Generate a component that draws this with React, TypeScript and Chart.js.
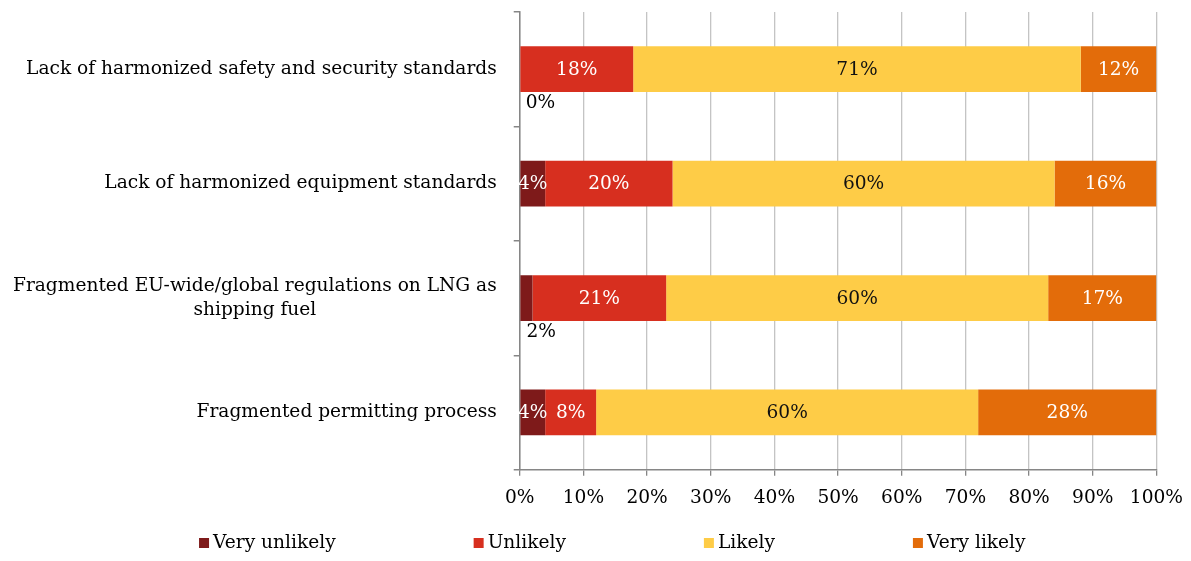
import React, { useEffect, useRef } from 'react';
import { Chart, registerables } from 'chart.js';

Chart.register(...registerables);

const categories: (string | string[])[] = [
  'Lack of harmonized safety and security standards',
  'Lack of harmonized equipment standards',
  ['Fragmented EU-wide/global regulations on LNG as', 'shipping fuel'],
  'Fragmented permitting process',
];

const seriesNames = ['Very unlikely', 'Unlikely', 'Likely', 'Very likely'];
const veryUnlikely = [0, 4, 2, 4];
const unlikely = [18, 20, 21, 8];
const likely = [71, 60, 60, 60];
const veryLikely = [12, 16, 17, 28];

const xTicks = [0, 10, 20, 30, 40, 50, 60, 70, 80, 90, 100];

const seriesColors = ['#7E1A1A', '#D72F1F', '#FECC47', '#E36C0A'];
const labelColors = ['#FFFFFF', '#FFFFFF', '#111111', '#FFFFFF'];

const FONT_FAMILY = '"DejaVu Serif", Georgia, serif';
const FONT_SIZE = 18.6;
const Y_LABEL_GAP = 17;
const X_TICK_PADDING = 11;

const rawSeries = [veryUnlikely, unlikely, likely, veryLikely];
const rowTotals = categories.map((_, i) => rawSeries.reduce((s, arr) => s + arr[i], 0));

const yLabelPlugin = {
  id: 'yLabels',
  afterDraw(chart: any) {
    const scale = chart.scales.y;
    const ctx = chart.ctx;
    ctx.save();
    ctx.font = `${FONT_SIZE}px ${FONT_FAMILY}`;
    ctx.fillStyle = '#000';
    ctx.textBaseline = 'middle';
    const rightEdge = scale.right - 6 - Y_LABEL_GAP;
    const lineH = FONT_SIZE * 1.29;
    categories.forEach((cat, i) => {
      const lines = Array.isArray(cat) ? cat : [cat];
      const widest = Math.max(...lines.map((l) => ctx.measureText(l).width));
      const cx = rightEdge - widest / 2;
      const yc = scale.getPixelForValue(i);
      const y0 = yc - ((lines.length - 1) * lineH) / 2;
      ctx.textAlign = 'center';
      lines.forEach((l, k) => ctx.fillText(l, cx, y0 + k * lineH));
    });
    ctx.restore();
  },
};

const dataLabelPlugin = {
  id: 'segLabels',
  afterDatasetsDraw(chart: any) {
    const ctx = chart.ctx;
    ctx.save();
    ctx.font = `${FONT_SIZE}px ${FONT_FAMILY}`;
    ctx.textBaseline = 'middle';
    chart.data.datasets.forEach((ds: any, di: number) => {
      const meta = chart.getDatasetMeta(di);
      meta.data.forEach((el: any, i: number) => {
        const raw = rawSeries[di][i];
        const text = `${raw}%`;
        const left = Math.min(el.x, el.base);
        const right = Math.max(el.x, el.base);
        if (raw < 3) {
          ctx.fillStyle = '#000';
          ctx.textAlign = 'left';
          ctx.fillText(text, left + 6, el.y + el.height / 2 + 11);
        } else {
          ctx.fillStyle = labelColors[di];
          ctx.textAlign = 'center';
          ctx.fillText(text, (left + right) / 2, el.y + 1);
        }
      });
    });
    ctx.restore();
  },
};

const legendPlugin = {
  id: 'customLegend',
  afterDraw(chart: any) {
    const ctx = chart.ctx;
    ctx.save();
    ctx.font = `${FONT_SIZE}px ${FONT_FAMILY}`;
    ctx.textBaseline = 'middle';
    ctx.textAlign = 'left';
    const box = 10;
    const textGap = 4;
    const gap = 138;
    const items = chart.data.datasets.map((ds: any) => ({
      label: ds.label,
      color: ds.backgroundColor,
      w: ctx.measureText(ds.label).width,
    }));
    const total =
      items.reduce((s: number, it: any) => s + box + textGap + it.w, 0) + gap * (items.length - 1);
    let x = chart.width * 0.5143 - total / 2;
    const y = chart.height - 10;
    items.forEach((it: any) => {
      ctx.fillStyle = it.color;
      ctx.fillRect(x, y - box / 2, box, box);
      ctx.fillStyle = '#000';
      ctx.fillText(it.label, x + box + textGap, y);
      x += box + textGap + it.w + gap;
    });
    ctx.restore();
  },
};

export default function App() {
  const ref = useRef<HTMLCanvasElement>(null);
  useEffect(() => {
    if (!ref.current) return;
    const chart = new Chart(ref.current, {
      type: 'bar',
      data: {
        labels: categories as any,
        datasets: rawSeries.map((arr, di) => ({
          label: seriesNames[di],
          data: arr.map((v, i) => (v / rowTotals[i]) * 100),
          backgroundColor: seriesColors[di],
          borderWidth: 0,
          barPercentage: 0.4,
          categoryPercentage: 1,
        })),
      },
      options: {
        indexAxis: 'y',
        responsive: true,
        maintainAspectRatio: false,
        animation: false,
        layout: { padding: { top: 4, right: 0, bottom: 33, left: 5 } },
        plugins: {
          legend: { display: false },
          tooltip: { enabled: false },
        },
        scales: {
          x: {
            stacked: true,
            min: 0,
            max: 100,
            afterBuildTicks: (scale: any) => {
              scale.ticks = xTicks.map((v) => ({ value: v }));
            },
            afterFit: (scale: any) => {
              scale.paddingRight = Math.max(0, scale.paddingRight - X_TICK_PADDING);
              scale.paddingLeft = Math.max(0, scale.paddingLeft - X_TICK_PADDING);
            },
            ticks: {
              callback: (v: any) => `${v}%`,
              color: '#000',
              font: { family: FONT_FAMILY, size: FONT_SIZE },
              padding: X_TICK_PADDING,
              maxRotation: 0,
            },
            grid: {
              color: '#C4C4C4',
              tickColor: '#868686',
              tickLength: 6,
              lineWidth: 1.3,
            },
            border: { color: '#868686', width: 1.5 },
          },
          y: {
            stacked: true,
            ticks: {
              color: 'rgba(0,0,0,0)',
              font: { family: FONT_FAMILY, size: FONT_SIZE, lineHeight: 0.2 },
              padding: 0,
            },
            afterFit: (scale: any) => {
              scale.width += Y_LABEL_GAP;
            },
            grid: {
              drawOnChartArea: false,
              offset: true,
              tickColor: '#868686',
              tickLength: 6,
              lineWidth: 1.5,
            },
            border: { color: '#868686', width: 1.5 },
          },
        },
      },
      plugins: [yLabelPlugin, dataLabelPlugin, legendPlugin],
    });
    return () => chart.destroy();
  }, []);
  return (
    <div style={{ position: 'relative', width: '100%', height: '545px' }}>
      <canvas ref={ref} />
    </div>
  );
}
